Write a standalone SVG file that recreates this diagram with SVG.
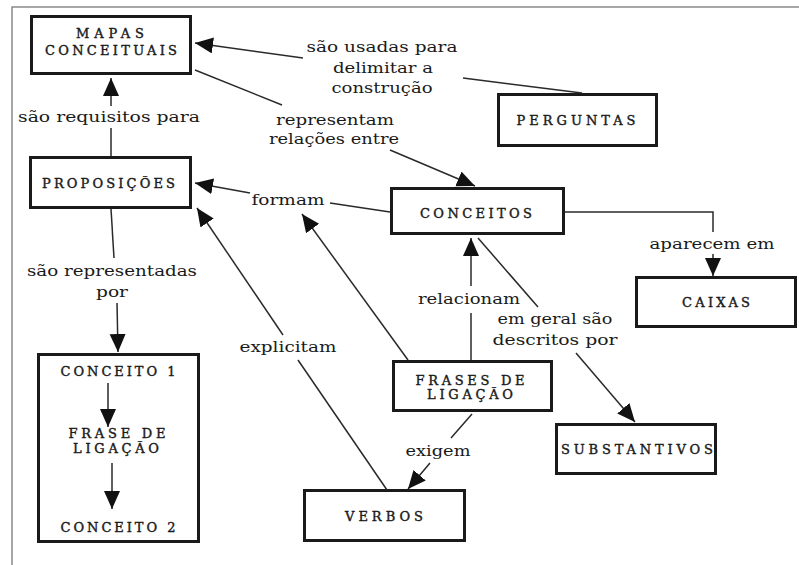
<svg xmlns="http://www.w3.org/2000/svg" width="799" height="565" viewBox="0 0 799 565">
<style>
.box{fill:#fff;stroke:#1a1a1a;stroke-width:3}
.bt{font-family:"DejaVu Serif","Liberation Serif",serif;font-size:13px;fill:#1a1a1a;stroke:#1a1a1a;stroke-width:0.4;text-anchor:middle}
.lb{font-family:"DejaVu Serif","Liberation Serif",serif;font-size:15px;fill:#1a1a1a;text-anchor:middle}
.ln{fill:none;stroke:#2a2a2a;stroke-width:1.5}
.ar{fill:none;stroke:#2a2a2a;stroke-width:1.5;marker-end:url(#ah)}
.frame{stroke:#8a8a8a;stroke-width:1.5;fill:none}
</style>
<defs>
<marker id="ah" markerUnits="userSpaceOnUse" markerWidth="20" markerHeight="18" refX="18" refY="8" orient="auto">
<path d="M0,0 L18,8 L0,16 z" fill="#111"/>
</marker>
</defs>
<rect width="799" height="565" fill="#fff"/>
<path class="frame" d="M12,565 L12,7 L799,7"/>

<g id="mapas">
<rect class="box" x="31.5" y="16.5" width="159" height="57"/>
<text class="bt" x="110" y="38" textLength="68" lengthAdjust="spacing">MAPAS</text>
<text class="bt" x="111" y="55" textLength="132" lengthAdjust="spacing">CONCEITUAIS</text>
</g>
<g id="perguntas">
<rect class="box" x="498.5" y="94.5" width="158" height="51"/>
<text class="bt" x="576" y="125" textLength="119" lengthAdjust="spacing">PERGUNTAS</text>
</g>
<g id="proposicoes">
<rect class="box" x="30.5" y="157.5" width="160" height="50"/>
<text class="bt" x="108.5" y="188" textLength="133" lengthAdjust="spacing">PROPOSIÇÕES</text>
</g>
<g id="conceitos">
<rect class="box" x="391.5" y="188.5" width="172" height="45"/>
<text class="bt" x="476" y="218" textLength="112" lengthAdjust="spacing">CONCEITOS</text>
</g>
<g id="caixas">
<rect class="box" x="636.5" y="277.5" width="159" height="49"/>
<text class="bt" x="716" y="307" textLength="68" lengthAdjust="spacing">CAIXAS</text>
</g>
<g id="exemplo">
<rect class="box" x="38.5" y="354.5" width="160" height="187"/>
<text class="bt" x="118" y="376" textLength="115" lengthAdjust="spacing">CONCEITO 1</text>
<text class="bt" x="117" y="438" textLength="97" lengthAdjust="spacing">FRASE DE</text>
<text class="bt" x="116" y="453" textLength="86" lengthAdjust="spacing">LIGAÇÃO</text>
<text class="bt" x="118" y="532" textLength="115" lengthAdjust="spacing">CONCEITO 2</text>
</g>
<g id="frases">
<rect class="box" x="393.5" y="361.5" width="158" height="49"/>
<text class="bt" x="470" y="385" textLength="109" lengthAdjust="spacing">FRASES DE</text>
<text class="bt" x="470" y="399" textLength="86" lengthAdjust="spacing">LIGAÇÃO</text>
</g>
<g id="substantivos">
<rect class="box" x="556.5" y="424.5" width="159" height="49"/>
<text class="bt" x="637" y="454" textLength="152" lengthAdjust="spacing">SUBSTANTIVOS</text>
</g>
<g id="verbos">
<rect class="box" x="304.5" y="490.5" width="160" height="50"/>
<text class="bt" x="384" y="521" textLength="78" lengthAdjust="spacing">VERBOS</text>
</g>

<g id="connectors">
<line class="ln" x1="582" y1="93" x2="463" y2="78"/>
<line class="ar" x1="303" y1="58" x2="195" y2="43"/>
<line class="ln" x1="111" y1="156" x2="111" y2="128"/>
<line class="ar" x1="111" y1="106" x2="111" y2="78"/>
<line class="ln" x1="195" y1="70" x2="282" y2="105"/>
<line class="ar" x1="390" y1="150" x2="475" y2="186"/>
<line class="ln" x1="390" y1="212" x2="330" y2="203"/>
<line class="ar" x1="250" y1="193" x2="195" y2="183"/>
<line class="ar" x1="408" y1="360" x2="302" y2="214"/>
<line class="ln" x1="387" y1="490" x2="298" y2="360"/>
<line class="ar" x1="283" y1="335" x2="197" y2="208"/>
<line class="ln" x1="111" y1="209" x2="114" y2="258"/>
<line class="ar" x1="117" y1="303" x2="118" y2="352"/>
<line class="ar" x1="108" y1="383" x2="108" y2="427"/>
<line class="ar" x1="112" y1="463" x2="112" y2="509"/>
<line class="ln" x1="471" y1="360" x2="471" y2="313"/>
<line class="ar" x1="471" y1="286" x2="471" y2="238"/>
<line class="ln" x1="478" y1="238" x2="538" y2="307"/>
<line class="ar" x1="576" y1="353" x2="635" y2="422"/>
<polyline class="ln" points="565,212 713,212 713,232"/>
<line class="ar" x1="713" y1="254" x2="713" y2="276"/>
<line class="ln" x1="472" y1="414" x2="451" y2="438"/>
<line class="ar" x1="430" y1="463" x2="408" y2="489"/>
<text class="lb" x="382" y="52" textLength="151" lengthAdjust="spacingAndGlyphs">são usadas para</text>
<text class="lb" x="383" y="73" textLength="100" lengthAdjust="spacingAndGlyphs">delimitar a</text>
<text class="lb" x="382" y="93" textLength="101" lengthAdjust="spacingAndGlyphs">construção</text>
<text class="lb" x="109" y="122" textLength="182" lengthAdjust="spacingAndGlyphs">são requisitos para</text>
<text class="lb" x="335" y="125" textLength="118" lengthAdjust="spacingAndGlyphs">representam</text>
<text class="lb" x="334" y="144" textLength="130" lengthAdjust="spacingAndGlyphs">relações entre</text>
<text class="lb" x="288" y="205" textLength="73" lengthAdjust="spacingAndGlyphs">formam</text>
<text class="lb" x="112" y="276" textLength="170" lengthAdjust="spacingAndGlyphs">são representadas</text>
<text class="lb" x="112" y="297" textLength="32" lengthAdjust="spacingAndGlyphs">por</text>
<text class="lb" x="288" y="352" textLength="97" lengthAdjust="spacingAndGlyphs">explicitam</text>
<text class="lb" x="469" y="304" textLength="102" lengthAdjust="spacingAndGlyphs">relacionam</text>
<text class="lb" x="555" y="324" textLength="115" lengthAdjust="spacingAndGlyphs">em geral são</text>
<text class="lb" x="555" y="345" textLength="125" lengthAdjust="spacingAndGlyphs">descritos por</text>
<text class="lb" x="712" y="249" textLength="125" lengthAdjust="spacingAndGlyphs">aparecem em</text>
<text class="lb" x="438" y="456" textLength="65" lengthAdjust="spacingAndGlyphs">exigem</text>
</g>
</svg>
